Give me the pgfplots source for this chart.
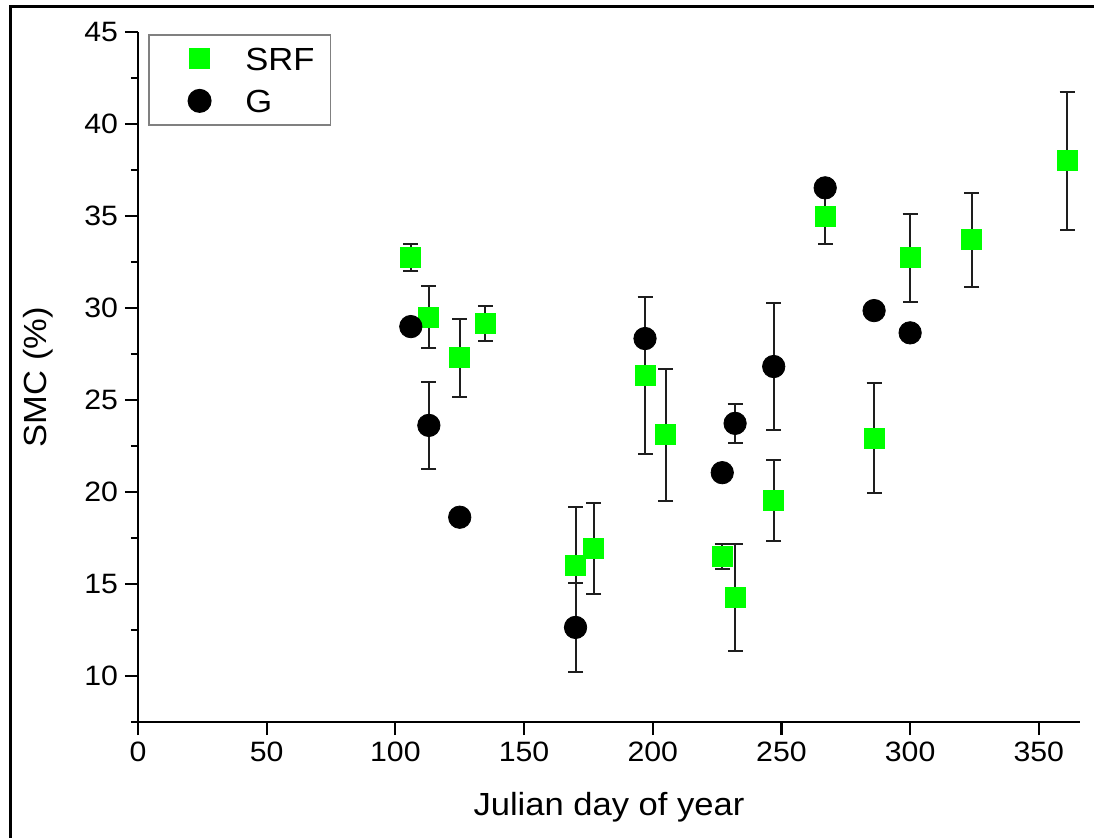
\documentclass[border=0pt]{standalone}
\usepackage{fontspec}
\setmainfont{Liberation Sans}[FakeStretch=1.08]
\usepackage{pgfplots}
\usepackage{pgfplotstable}
\pgfplotsset{compat=1.18}
\definecolor{srf}{RGB}{0,255,0}
\definecolor{ebar}{RGB}{30,30,30}

\pgfplotstableread{
x y e
106 32.76 0.73
113 29.51 1.71
125 27.30 2.12
135 29.18 0.95
170 16.02 3.17
177 16.95 2.47
197 26.33 4.28
205 23.10 3.60
227 16.50 0.68
232 14.27 2.93
247 19.55 2.20
267 34.96 1.47
286 22.93 3.01
300 32.73 2.39
324 33.71 2.55
361 38.00 3.76
}\srfdata

\pgfplotstableread{
x y e
106 28.99 0
113 23.62 2.35
125 18.63 0
170 12.64 2.41
197 28.34 0
227 21.05 0
232 23.73 1.05
247 26.82 3.44
267 36.53 0
286 29.86 0
300 28.65 0
}\gdata

\begin{document}
\begin{tikzpicture}
\useasboundingbox (-69pt,-57.5pt) rectangle (478pt,361pt);
\draw[line width=1.5pt] (-63.5pt,-90pt) -- (-63.5pt,357.5pt) -- (520pt,357.5pt);
\draw[line width=1.2pt] (-3.5pt,0pt) -- (0pt,0pt);
\begin{axis}[
  at={(0pt,0pt)}, anchor=south west,
  scale only axis, width=471pt, height=345pt,
  xmin=0, xmax=366, ymin=7.5, ymax=45,
  axis lines*=left,
  axis line style={line width=1.2pt, black},
  xtick={0,50,...,350}, ytick={10,15,...,45},
  minor y tick num=1,
  tick align=outside,
  major tick length=6.5pt, minor tick length=3.5pt,
  every tick/.style={line width=1.1pt, black},
  /pgf/number format/assume math mode=true,
  ticklabel style={font=\fontsize{14}{16}\selectfont},
  xlabel={Julian day of year}, ylabel={SMC (\%)},
  label style={font=\fontsize{16}{19}\selectfont},
  xlabel style={at={(axis description cs:0.5,-0.1362)}, anchor=base},
  ylabel style={at={(axis description cs:-0.1062,0.5)}, anchor=center},
  legend style={at={(0.0106,0.997)}, anchor=north west, draw=gray, line width=0.8pt,
    font=\fontsize{16}{19}\selectfont, inner xsep=3pt, inner ysep=3pt, row sep=3pt,
    nodes={inner xsep=5pt, inner ysep=0pt, text height=14.8pt, text depth=3.2pt},
    /tikz/every even column/.append style={column sep=0pt}},
  legend cell align=left,
  legend image code/.code={\path (-22pt,0pt) (17.5pt,0pt); \draw[#1] plot coordinates {(0pt,0pt)};},
  clip=false,
]
\addplot[only marks, mark=square*, mark size=5pt, mark options={fill=srf, draw=srf, line width=0pt},
  error bars/.cd, y dir=both, y explicit,
  error bar style={line width=1pt, ebar},
  error mark options={rotate=90, mark size=3.75pt, line width=1pt, ebar}]
  table[x=x, y=y, y error=e] {\srfdata};
\addlegendentry{SRF}
\addplot[only marks, mark=*, mark size=5.6pt, mark options={fill=black, draw=black},
  error bars/.cd, y dir=both, y explicit,
  error bar style={line width=1pt, ebar},
  error mark options={rotate=90, mark size=3.75pt, line width=1pt, ebar}]
  table[x=x, y=y, y error=e] {\gdata};
\addlegendentry{G}
\end{axis}
\end{tikzpicture}
\end{document}
